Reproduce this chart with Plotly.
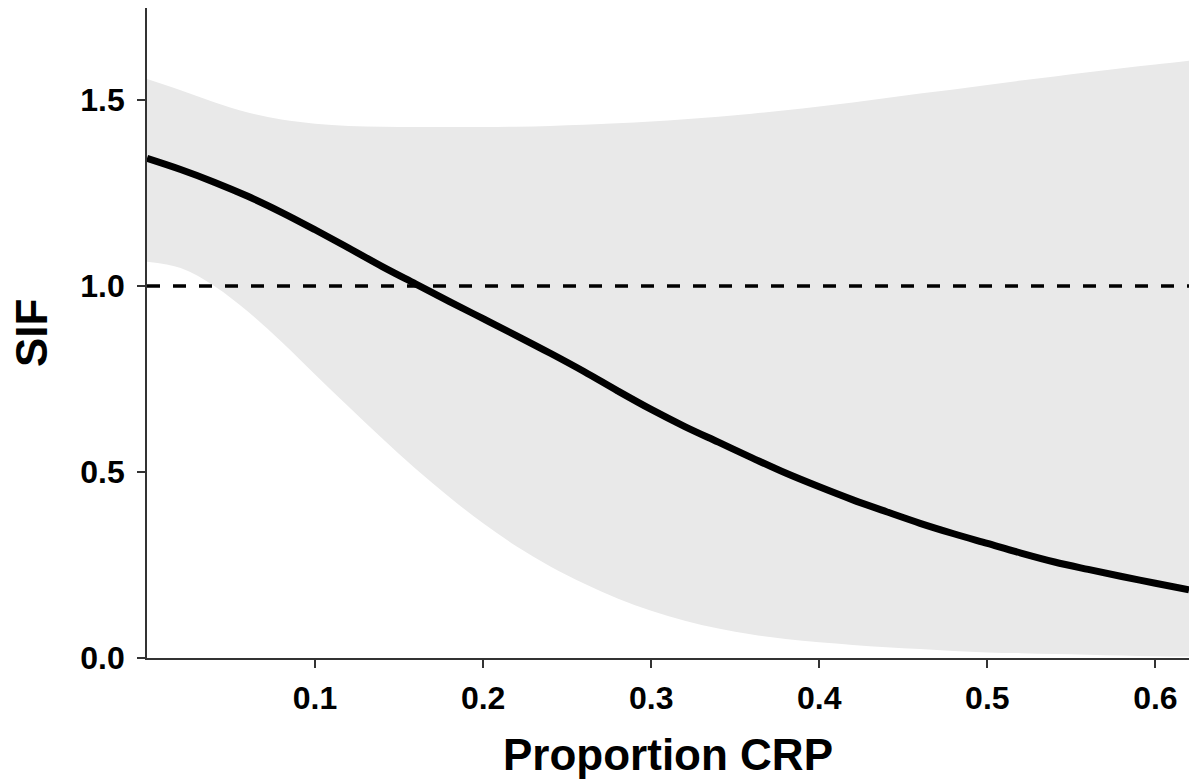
import plotly.graph_objects as go

# ---- data ----
crp = [0.00, 0.02, 0.04, 0.06, 0.08, 0.10, 0.12, 0.14, 0.16, 0.18, 0.20,
       0.22, 0.24, 0.26, 0.28, 0.30, 0.32, 0.34, 0.36, 0.38, 0.40, 0.42,
       0.44, 0.46, 0.48, 0.50, 0.52, 0.54, 0.56, 0.58, 0.60, 0.62]
sif_fit = [1.343, 1.313, 1.279, 1.241, 1.198, 1.151, 1.102, 1.052, 1.005, 0.958, 0.912,
           0.866, 0.819, 0.770, 0.718, 0.668, 0.622, 0.580, 0.538, 0.497, 0.460, 0.425,
           0.393, 0.362, 0.334, 0.308, 0.282, 0.258, 0.238, 0.219, 0.201, 0.183]
sif_lower = [1.065, 1.048, 1.000, 0.931, 0.850, 0.762, 0.675, 0.590, 0.508, 0.432, 0.362,
             0.300, 0.246, 0.200, 0.160, 0.127, 0.100, 0.079, 0.063, 0.051, 0.042, 0.035,
             0.029, 0.024, 0.019, 0.015, 0.013, 0.011, 0.009, 0.007, 0.005, 0.004]
sif_upper = [1.556, 1.526, 1.494, 1.466, 1.447, 1.436, 1.430, 1.428, 1.427, 1.427, 1.427,
             1.428, 1.430, 1.433, 1.437, 1.442, 1.448, 1.455, 1.463, 1.472, 1.482, 1.493,
             1.505, 1.517, 1.528, 1.540, 1.552, 1.563, 1.574, 1.585, 1.595, 1.605]
reference_sif = 1.0
x_ticks = [0.1, 0.2, 0.3, 0.4, 0.5, 0.6]
y_ticks = [0.0, 0.5, 1.0, 1.5]
x_title = "Proportion CRP"
y_title = "SIF"

FONT = "Liberation Sans, Arial, sans-serif"
AX = "#333333"

fig = go.Figure()
fig.add_trace(go.Scatter(x=crp, y=sif_lower, mode="lines", line=dict(width=0, shape="spline"),
                         hoverinfo="skip", showlegend=False))
fig.add_trace(go.Scatter(x=crp, y=sif_upper, mode="lines", line=dict(width=0, shape="spline"),
                         fill="tonexty", fillcolor="#E9E9E9", hoverinfo="skip", showlegend=False))
fig.add_hline(y=reference_sif, line=dict(color="black", width=3.5, dash="13px,13px"), layer="above")
fig.add_trace(go.Scatter(x=crp, y=sif_fit, mode="lines",
                         line=dict(color="black", width=7, shape="spline"), showlegend=False))

tickfont = dict(family=FONT, size=32, color="black", weight="bold")
titlefont = dict(family=FONT, size=44, color="black", weight="bold")
fig.update_layout(
    width=1189, height=784,
    margin=dict(l=147, r=0, t=8, b=126),
    paper_bgcolor="white", plot_bgcolor="white",
    xaxis=dict(range=[0, 0.62], tickvals=x_ticks, tickformat=".1f", showgrid=False, zeroline=False,
               showline=True, linecolor=AX, linewidth=1.6, ticks="outside", ticklen=8,
               tickwidth=1.6, tickcolor=AX, tickfont=tickfont, ticklabelstandoff=3),
    yaxis=dict(range=[0, 1.747], tickvals=y_ticks, tickformat=".1f", showgrid=False, zeroline=False,
               showline=True, linecolor=AX, linewidth=1.6, ticks="outside", ticklen=8,
               tickwidth=1.6, tickcolor=AX, tickfont=tickfont, ticklabelstandoff=6),
    annotations=[
        dict(text=x_title, xref="paper", yref="paper", x=0.5, y=0, yshift=-96,
             xanchor="center", yanchor="middle", showarrow=False, font=titlefont),
        dict(text=y_title, xref="paper", yref="paper", x=0, y=0.5, xshift=-116,
             xanchor="center", yanchor="middle", textangle=-90, showarrow=False, font=titlefont),
    ],
)

fig.write_html("out.html")
